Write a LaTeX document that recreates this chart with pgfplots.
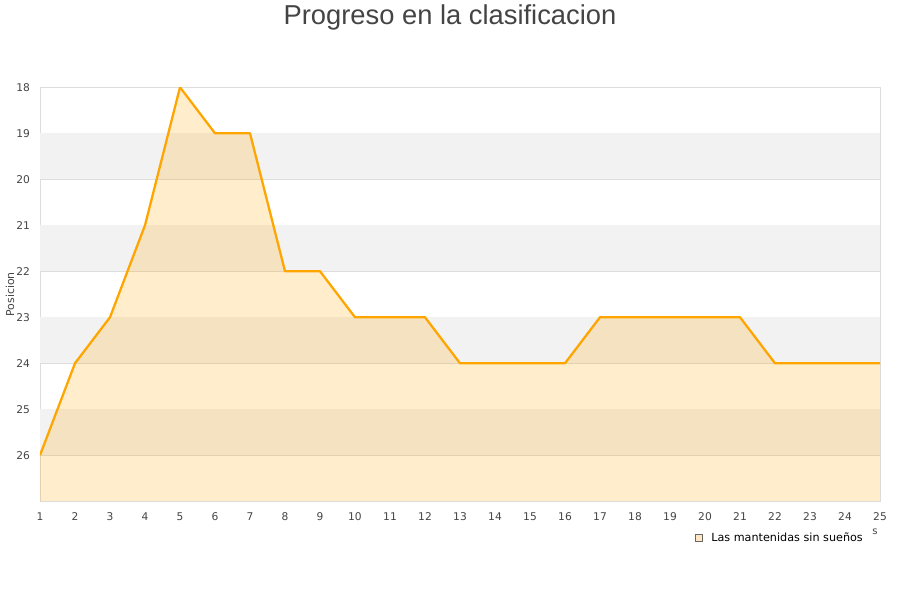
\documentclass[border=0pt]{standalone}
\usepackage{fontspec}
\setmainfont{DejaVu Sans}
\newfontfamily\titlefont{Liberation Sans}
\usepackage{pgfplots}
\pgfplotsset{compat=1.18}
\definecolor{linecol}{RGB}{255,165,0}
\definecolor{band}{RGB}{242,242,242}
\definecolor{gridc}{RGB}{221,221,221}
\definecolor{txt}{RGB}{68,68,68}
\begin{document}
\begin{tikzpicture}[x=0.75pt,y=0.75pt]
\path (0,0) rectangle (900,600);
\node[font=\titlefont\fontsize{20.5pt}{24pt}\selectfont, text=txt, anchor=base] at (450,577) {Progreso en la clasificacion};
\node[font=\fontsize{7.5pt}{8pt}\selectfont, text=txt] at (875,69) {s};
\begin{axis}[
  at={(30pt,75pt)}, anchor=south west,
  scale only axis, width=630pt, height=310.5pt,
  xmin=1, xmax=25, ymin=18, ymax=27,
  y dir=reverse,
  xtick={1,...,25}, ytick={18,...,26},
  tick style={draw=none},
  axis line style={draw=gridc},
  ymajorgrids, grid style={gridc, line width=0.6pt},
  /pgf/number format/assume math mode=true,
  ticklabel style={font=\fontsize{8pt}{9pt}\selectfont, text=txt},
  xticklabel style={yshift=-5pt},
  yticklabel style={xshift=-4pt},
  ylabel={Posicion},
  ylabel style={font=\fontsize{8.2pt}{9pt}\selectfont, text=txt, at={(axis description cs:-0.0357,0.5)}, anchor=center},
  legend style={at={(axis description cs:0.983,-0.089)}, anchor=east, draw=none, fill=none, inner sep=0pt, font=\fontsize{8.4pt}{9pt}\selectfont, legend cell align=left},
  legend image code/.code={\draw[draw=gray!80!black, fill=linecol!25, line width=0.4pt] (0pt,-2.7pt) rectangle (5.4pt,2.7pt); \path (9pt,0pt);},
  clip=true, axis on top=false,
]
\addplot[fill=band, draw=none, forget plot] coordinates {(1,19) (25,19) (25,20) (1,20)} -- cycle;
\addplot[fill=band, draw=none, forget plot] coordinates {(1,21) (25,21) (25,22) (1,22)} -- cycle;
\addplot[fill=band, draw=none, forget plot] coordinates {(1,23) (25,23) (25,24) (1,24)} -- cycle;
\addplot[fill=band, draw=none, forget plot] coordinates {(1,25) (25,25) (25,26) (1,26)} -- cycle;
\addplot[fill=linecol, fill opacity=0.2, draw=none, forget plot] coordinates {
(1,26) (2,24) (3,23) (4,21) (5,18) (6,19) (7,19) (8,22) (9,22) (10,23) (11,23) (12,23) (13,24) (14,24) (15,24) (16,24) (17,23) (18,23) (19,23) (20,23) (21,23) (22,24) (23,24) (24,24) (25,24) (25,27) (1,27)} -- cycle;
\addplot[draw=linecol, line width=1.7pt, line join=round, mark=none] coordinates {
(1,26) (2,24) (3,23) (4,21) (5,18) (6,19) (7,19) (8,22) (9,22) (10,23) (11,23) (12,23) (13,24) (14,24) (15,24) (16,24) (17,23) (18,23) (19,23) (20,23) (21,23) (22,24) (23,24) (24,24) (25,24)};
\addlegendentry{Las mantenidas sin sueños}
\end{axis}
\end{tikzpicture}
\end{document}
